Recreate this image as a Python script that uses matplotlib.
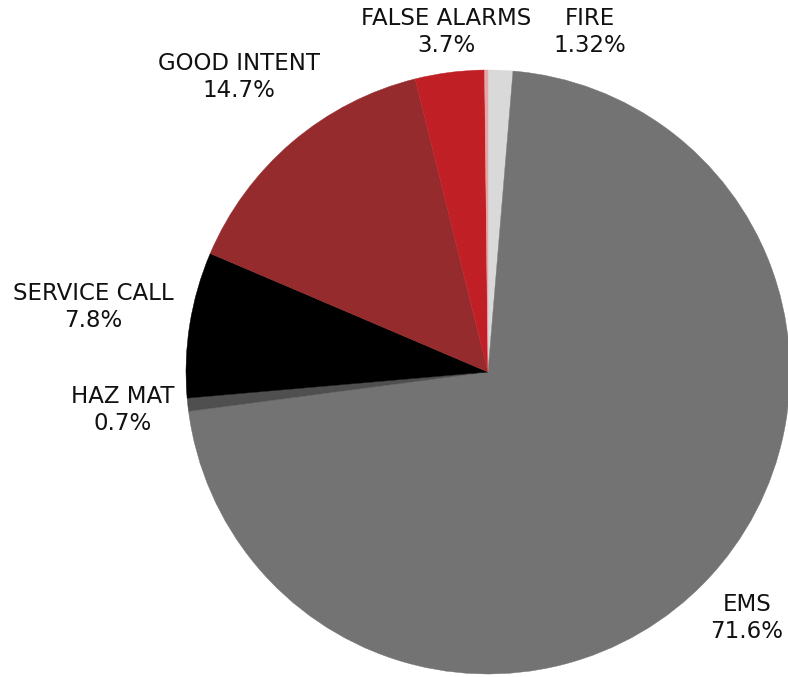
import matplotlib
matplotlib.use("Agg")
import matplotlib.pyplot as plt

categories = ["FIRE", "EMS", "HAZ MAT", "SERVICE CALL", "GOOD INTENT", "FALSE ALARMS", ""]
values = [1.32, 71.6, 0.7, 7.8, 14.7, 3.7, 0.18]
pct_labels = ["1.32%", "71.6%", "0.7%", "7.8%", "14.7%", "3.7%", ""]
colors = ["#d9d9d9", "#737373", "#4f4f4f", "#000000", "#952b2d", "#c01f26", "#e8a5a5"]

# label centres in pixels (x, y from top)
label_px = [(590, 32), (747, 618), (123, 410), (93, 307), (239, 77), (446, 32), None]

W, H = 788, 677
cx, cy, r = 488, 372, 302

fig = plt.figure(figsize=(W / 100, H / 100), dpi=100)
ax = fig.add_axes([0, 0, 1, 1])
ax.pie(values, colors=colors, startangle=90, counterclock=False, radius=1,
       wedgeprops=dict(linewidth=0.3))
for w, c in zip(ax.patches, colors):
    w.set_edgecolor(c)
ax.set_xlim(-cx / r, (W - cx) / r)
ax.set_ylim(-(H - cy) / r, cy / r)
ax.set_aspect("equal")
ax.axis("off")

for name, pct, pos in zip(categories, pct_labels, label_px):
    if pos is None:
        continue
    x = (pos[0] - cx) / r
    y = (cy - pos[1]) / r
    ax.text(x, y, f"{name}\n{pct}", ha="center", va="center", fontsize=16.5,
            family=["DejaVu Sans"], color="#111111", linespacing=1.27)

fig.savefig("out.png", dpi=100)
